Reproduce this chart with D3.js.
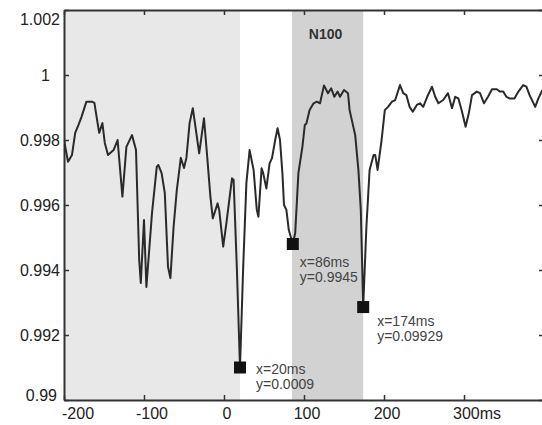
<!DOCTYPE html>
<html>
<head>
<meta charset="utf-8">
<script src="https://cdn.jsdelivr.net/npm/d3@7"></script>
<style>
body { margin: 0; background: #fff; }
svg { display: block; font-family: "Liberation Sans", Arial, sans-serif; }
</style>
</head>
<body>
<svg id="chart" width="542" height="425"></svg>
<script>
// time in ms, and the trace value
var times = [-200,-195,-190,-186,-182,-178,-172,-165,-162,-158,-156,-152,-149,-145,-138,-133,-127,-122,-115,-110,
    -106,-104,-100,-97,-90,-84,-82,-78,-74,-70,-67,-63,-59,-54,-50,-47,-43,-39,-31,-25,
    -21,-17,-14,-8,-6,-1,3,10,12,16,20,24,28,32,37,41,43,47,49,53,
    57,60,64,67,70,73,75,78,81,86,89,93,98,101,103,107,112,116,120,125,
    130,134,138,142,145,150,155,157,164,168,171,174,178,182,187,189,192,197,201,205,
    210,214,220,224,228,232,236,241,245,249,254,260,264,268,274,280,285,289,293,297,
    302,306,310,316,320,325,330,335,341,345,349,353,357,363,368,374,378,382,389,393,398];
var values = [0.99800,0.99733,0.99754,0.99822,0.99846,0.99872,0.99918,0.99918,0.99914,0.99852,0.99822,0.99852,0.99791,0.99754,0.99769,0.99800,0.99626,0.99779,0.99815,0.99769,
    0.99431,0.99360,0.99554,0.99348,0.99575,0.99718,0.99723,0.99698,0.99637,0.99410,0.99375,0.99533,0.99646,0.99745,0.99714,0.99745,0.99852,0.99898,0.99759,0.99867,
    0.99749,0.99626,0.99559,0.99605,0.99585,0.99472,0.99544,0.99682,0.99677,0.99410,0.99100,0.99410,0.99668,0.99769,0.99708,0.99585,0.99564,0.99713,0.99698,0.99651,
    0.99728,0.99744,0.99800,0.99836,0.99800,0.99698,0.99600,0.99585,0.99523,0.99480,0.99514,0.99698,0.99779,0.99846,0.99851,0.99892,0.99913,0.99918,0.99913,0.99968,
    0.99944,0.99959,0.99933,0.99949,0.99933,0.99954,0.99944,0.99892,0.99815,0.99708,0.99585,0.99286,0.99533,0.99708,0.99754,0.99754,0.99708,0.99800,0.99892,0.99902,
    0.99918,0.99923,0.99969,0.99944,0.99938,0.99902,0.99887,0.99908,0.99913,0.99902,0.99933,0.99964,0.99933,0.99913,0.99923,0.99944,0.99898,0.99933,0.99928,0.99892,
    0.99841,0.99882,0.99938,0.99949,0.99944,0.99913,0.99933,0.99956,0.99956,0.99949,0.99949,0.99933,0.99928,0.99928,0.99949,0.99969,0.99964,0.99938,0.99902,0.99928,0.99954];

// shaded windows
var bandStart = [-200, 85];
var bandEnd = [20, 174];
var bandName = ["", "N100"];

// picked points
var markerX = [20, 86, 174];
var markerY = [0.9910, 0.9948, 0.99286];
var markerLine1 = ["x=20ms", "x=86ms", "x=174ms"];
var markerLine2 = ["y=0.0009", "y=0.9945", "y=0.09929"];

var xTicks = [-200, -100, 0, 100, 200, 300];
var xTickLabels = ["-200", "-100", "0", "100", "200", "300ms"];
var yTicks = [0.99, 0.992, 0.994, 0.996, 0.998, 1, 1.002];
var yTickLabels = ["0.99", "0.992", "0.994", "0.996", "0.998", "1", "1.002"];

(function() {
var svg = d3.select("#chart");
var pLeft = 64, pTop = 10, pBottom = 400, pRight = 544;

var x = d3.scaleLinear().domain([-200, 400]).range([pLeft, pRight]);
var y = d3.scaleLinear().domain([0.99, 1.002]).range([pBottom, pTop]);

var bandColor = ["#e8e8e8", "#d2d2d2"];

svg.selectAll("rect.band")
    .data(bandStart)
    .enter().append("rect")
    .attr("class", "band")
    .attr("x", function(d) { return x(d); })
    .attr("y", pTop)
    .attr("width", function(d, i) { return x(bandEnd[i]) - x(d); })
    .attr("height", pBottom - pTop)
    .attr("fill", function(d, i) { return bandColor[i]; });

svg.selectAll("text.bandName")
    .data(bandName.filter(function(d){ return d; }))
    .enter().append("text")
    .attr("x", function(d) { var i = bandName.indexOf(d); return (x(bandStart[i]) + x(bandEnd[i])) / 2 - 2; })
    .attr("y", 39)
    .attr("text-anchor", "middle")
    .attr("font-size", "14px")
    .attr("font-weight", "bold")
    .attr("fill", "#333")
    .text(function(d) { return d; });

// axes, ticks pointing inwards
function styleAxis(g) {
    g.selectAll("path").attr("stroke", "#333").attr("stroke-width", 2);
    g.selectAll("line").attr("stroke", "#333").attr("stroke-width", 1.5);
    g.selectAll("text").remove();
}
svg.append("g").attr("transform", "translate(0," + pBottom + ")")
    .call(d3.axisBottom(x).tickValues(xTicks).tickSizeInner(-5).tickSizeOuter(0)).call(styleAxis);
svg.append("g").attr("transform", "translate(0," + pTop + ")")
    .call(d3.axisTop(x).tickValues(xTicks).tickSizeInner(-5).tickSizeOuter(0)).call(styleAxis);
svg.append("g").attr("transform", "translate(" + pLeft + ",0)")
    .call(d3.axisLeft(y).tickValues(yTicks).tickSizeInner(-5).tickSizeOuter(0)).call(styleAxis);
svg.append("g").attr("transform", "translate(" + pRight + ",0)")
    .call(d3.axisRight(y).tickValues(yTicks).tickSizeInner(-5).tickSizeOuter(0)).call(styleAxis);

// tick labels
svg.selectAll("text.xlab")
    .data(xTicks)
    .enter().append("text")
    .attr("class", "xlab")
    .attr("x", function(d, i) {
        if (i == 0) return x(d) - 2;
        if (d == 300) return x(d) - 11;
        if (d < 0) return x(d) + 8;
        return x(d) + 3;
    })
    .attr("y", 419)
    .attr("text-anchor", function(d, i) { return (i == 0 || d == 300) ? "start" : "middle"; })
    .attr("font-size", "16px")
    .attr("fill", "#222")
    .text(function(d, i) { return xTickLabels[i]; });

svg.selectAll("text.ylab")
    .data(yTicks)
    .enter().append("text")
    .attr("class", "ylab")
    .attr("x", function(d, i) {
        if (yTickLabels[i] == "1") return 50;
        if (i == 0) return 57;
        return 60;
    })
    .attr("y", function(d, i) {
        if (i == yTicks.length - 1) return y(d) + 9;
        if (i == 0) return y(d) - 5;
        return y(d);
    })
    .attr("dy", "0.36em")
    .attr("text-anchor", "end")
    .attr("font-size", "16px")
    .attr("fill", "#222")
    .text(function(d, i) { return yTickLabels[i]; });

// trace
var line = d3.line()
    .x(function(d) { return x(d); })
    .y(function(d, i) { return y(values[i]); });

svg.append("clipPath").attr("id", "plotClip")
    .append("rect").attr("x", pLeft).attr("y", pTop).attr("width", pRight - pLeft).attr("height", pBottom - pTop);

svg.append("path")
    .attr("d", line(times))
    .attr("clip-path", "url(#plotClip)")
    .attr("fill", "none")
    .attr("stroke", "#2a2a2a")
    .attr("stroke-width", 2)
    .attr("stroke-linejoin", "round");

// markers + their labels
var labelDx = [16, 7, 14], labelDy = [6.5, 22.5, 18.5];

svg.selectAll("rect.marker")
    .data(markerX)
    .enter().append("rect")
    .attr("class", "marker")
    .attr("x", function(d) { return x(d) - 6; })
    .attr("y", function(d, i) { return y(markerY[i]) - 6; })
    .attr("width", 12)
    .attr("height", 12)
    .attr("fill", "#111");

var ann = svg.selectAll("text.ann")
    .data(markerX)
    .enter().append("text")
    .attr("class", "ann")
    .attr("font-size", "14px")
    .attr("fill", "#444");
ann.append("tspan")
    .attr("x", function(d, i) { return x(d) + labelDx[i]; })
    .attr("y", function(d, i) { return y(markerY[i]) + labelDy[i]; })
    .text(function(d, i) { return markerLine1[i]; });
ann.append("tspan")
    .attr("x", function(d, i) { return x(d) + labelDx[i]; })
    .attr("y", function(d, i) { return y(markerY[i]) + labelDy[i] + 15; })
    .text(function(d, i) { return markerLine2[i]; });
})();
</script>
</body>
</html>
